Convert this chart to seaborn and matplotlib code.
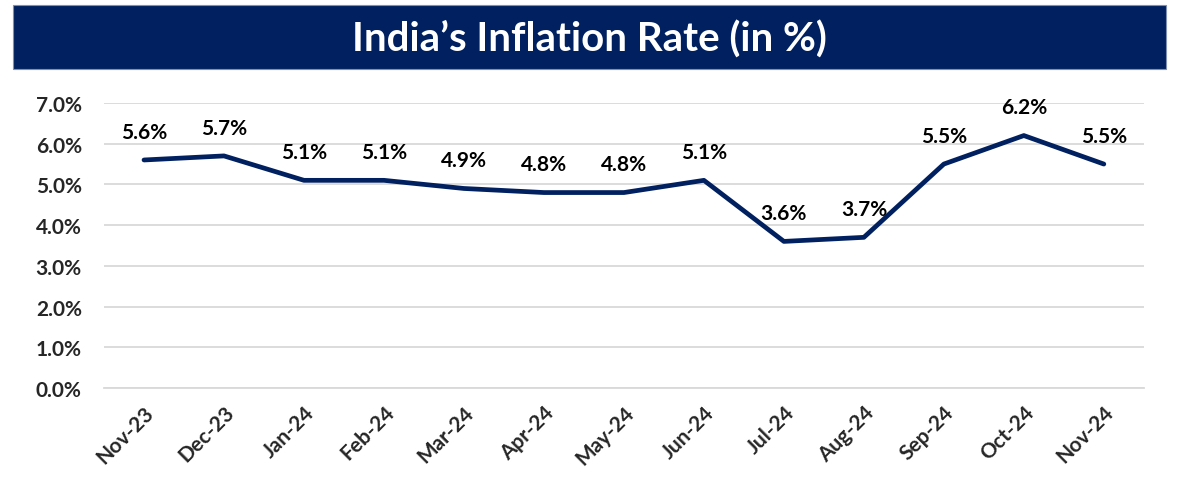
import numpy as np
import pandas as pd
import seaborn as sns
import matplotlib.pyplot as plt
from matplotlib.patches import Rectangle
from matplotlib.ticker import FuncFormatter, MultipleLocator

months = ['Nov-23', 'Dec-23', 'Jan-24', 'Feb-24', 'Mar-24', 'Apr-24', 'May-24',
          'Jun-24', 'Jul-24', 'Aug-24', 'Sep-24', 'Oct-24', 'Nov-24']
inflation = [5.6, 5.7, 5.1, 5.1, 4.9, 4.8, 4.8, 5.1, 3.6, 3.7, 5.5, 6.2, 5.5]

df = pd.DataFrame({'Month': months, 'Inflation': inflation})

sns.set_style('white')
plt.rcParams['font.family'] = ['Lato', 'DejaVu Sans']

navy = '#002060'
grid_col = '#d9d9d9'
fs = 15

fig = plt.figure(figsize=(11.78, 4.85), dpi=100)
ax = fig.add_axes([0.0883, 0.198, 0.971 - 0.0883, 0.7856 - 0.198])

sns.lineplot(x='Month', y='Inflation', data=df, ax=ax, color=navy, linewidth=3.4,
             sort=False)

for i, v in enumerate(inflation):
    ax.annotate(f'{v:.1f}%', (i, v), xytext=(0, 13), textcoords='offset points',
                ha='center', va='bottom', fontsize=fs, fontweight='bold', color='black')

ax.set_xlim(-0.5, len(months) - 0.5)
ax.set_ylim(0, 7)
ax.yaxis.set_major_locator(MultipleLocator(1))
ax.yaxis.set_major_formatter(FuncFormatter(lambda y, _: f'{y:.1f}%'))
ax.grid(axis='y', color=grid_col, linewidth=1.3)
ax.set_axisbelow(True)

ax.set_xticks(range(len(months)))
ax.set_xticklabels(months, rotation=45, ha='right', rotation_mode='anchor',
                   fontsize=fs, fontweight='bold')
ax.set_xticks(np.arange(-0.5, len(months)), minor=True)
ax.tick_params(axis='x', which='major', length=0, pad=10)
ax.tick_params(axis='x', which='minor', length=6, width=1.3, color=grid_col, direction='out')
ax.tick_params(axis='y', length=0, pad=16, labelsize=fs)
for lab in ax.get_yticklabels():
    lab.set_fontweight('bold')

for s in ['top', 'right', 'left']:
    ax.spines[s].set_visible(False)
ax.spines['bottom'].set_color(grid_col)
ax.spines['bottom'].set_linewidth(1.3)
ax.set_xlabel('')
ax.set_ylabel('')

# title banner
fig.patches.append(Rectangle((13 / 1178, 1 - 70 / 485), (1166 - 13) / 1178, 64 / 485,
                             transform=fig.transFigure, facecolor=navy,
                             edgecolor='#8090b0', linewidth=0.8))
fig.text(0.5, 1 - 40 / 485, 'India\u2019s Inflation Rate (in %)', ha='center', va='center',
         color='white', fontsize=29, fontweight='bold')

fig.savefig('out.png', dpi=100)
